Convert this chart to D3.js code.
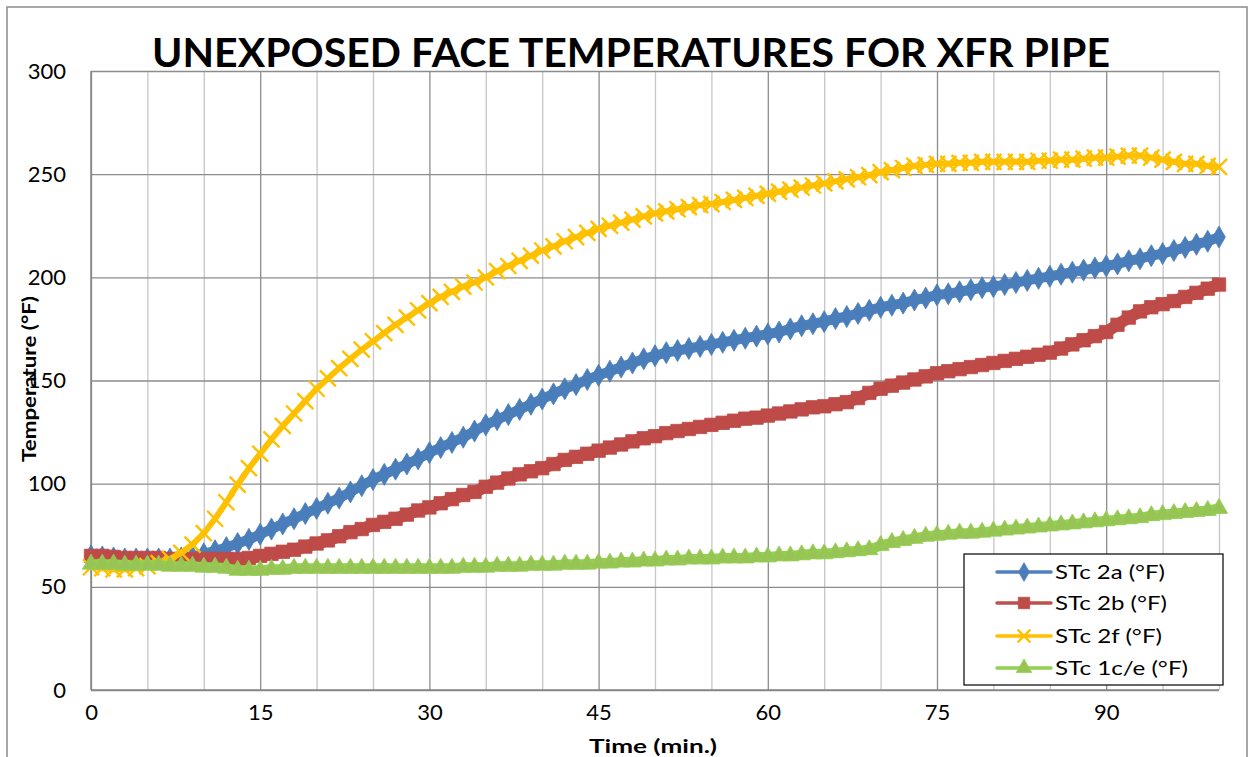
<!DOCTYPE html>
<html>
<head>
<meta charset="utf-8">
<script src="https://cdn.jsdelivr.net/npm/d3@7"></script>
<style>
  html, body { margin: 0; padding: 0; background: #ffffff; }
  svg { display: block; }
  text { font-family: Lato, "Open Sans", "Liberation Sans", sans-serif; fill: #000; }
</style>
</head>
<body>
<svg id="chart" width="1254" height="757"></svg>
<script>
// ---------- data (one value per minute, 0..100) ----------
const minutes = d3.range(0, 101);

const stc2a = [65,64.5,64,63.5,63.5,63.5,63.5,63.5,64,64.5,
  66,67.5,69,71,73,75.5,78,80.5,83,85.5,
  88,90.5,93,96,99,102,104.5,107,109.5,112,
  115,117.5,120,122.5,125.5,128.5,131,133.5,136,138.5,
  141,143.5,146,148,150.5,152.5,154.5,156.5,158.5,160.5,
  162,163.5,164.5,165.5,166.5,167.5,168.5,169.5,170.5,171.5,
  172.5,173.5,175,176.5,177.5,178.5,180,181,182.5,184,
  185.5,186.5,187.5,189,190,191.5,192,193,194,195,
  195.5,196.5,197.5,198.5,199.5,200.5,201.5,202.5,203.5,204.5,
  205.5,206.5,208,209,210.5,211.5,213,214.5,216,217.5,219.5];

const stc2b = [65,65,64.5,64,64,64,64,63.5,63.5,63.5,
  63.5,63.5,63.5,63.5,64,65,66,67,68,69.5,
  71,72.5,74.5,76.5,78,80,81.5,83,85,87,
  88.5,90.5,92.5,94.5,96,98.5,100.5,102.5,104.5,106,
  107.5,109.5,111.5,113,114.5,116,117.5,119,120.5,122,
  123,124.5,125.5,126.5,127.5,128.5,129.5,130.5,131.5,132,
  133,134,135,136,137,137.5,138.5,139.5,141.5,144,
  146,147.5,149,150.5,152,153.5,154.5,155.5,156.5,157.5,
  158.5,159.5,160.5,161.5,162.5,163.5,165.5,167.5,169.5,171.5,
  173.5,177,180.5,183.5,185.5,187,188.5,190.5,192.5,194.5,196.5];

const stc2f = [59.5,59,58.5,58.5,59,60,61.5,63.5,66.5,70.5,
  76,83,91,99.5,107.5,114.5,121.5,128,134,140,
  146,151,156,160.5,165,169,173,177,180.5,184,
  187.5,190.5,193,195.5,197.5,200,203,205.5,208,210.5,
  213,215,217.5,219.5,221.5,223.5,225,226.5,228,229.5,
  231,232,233,234,235,235.5,236.5,237.5,238.5,239.5,
  240.5,241.5,242.5,243.5,244.5,245.5,246.5,247.5,248.5,249.5,
  251,252,253,254,254.5,255,255,255.5,255.5,256,
  256,256,256,256,256.5,256.5,257,257,257.5,258,
  258,258.5,259,259,258,257,256,255,255,254,253.5];

const stc1ce = [61,61,61,60.5,60.5,60.5,60.5,60,60,60,
  59.5,59.5,59,58,58,58,58.5,58.5,59,59,
  59,59,59,59,59,59,59,59,59,59,
  59,59,59,59.5,59.5,59.5,60,60,60,60.5,
  60.5,60.5,61,61,61,61.5,61.5,62,62,62.5,
  62.5,63,63,63.5,63.5,63.5,64,64,64,64.5,
  64.5,65,65,65.5,66,66,66.5,67,67.5,68,
  70,71.5,72.5,73.5,74.5,75,75.5,76,76,76.5,
  77,77.5,78,78.5,79,79.5,80,80.5,81,81.5,
  82,82.5,83,83.5,84.5,85,85.5,86,86.5,87,88];

const seriesNames = ["STc 2a (°F)", "STc 2b (°F)", "STc 2f (°F)", "STc 1c/e (°F)"];
const xTickValues = [0, 15, 30, 45, 60, 75, 90];
const xGridValues = d3.range(0, 101, 5);
const yTickValues = [0, 50, 100, 150, 200, 250, 300];
const titleText = "UNEXPOSED FACE TEMPERATURES FOR XFR PIPE";
const xTitle = "Time (min.)";
const yTitle = "Temperature (°F)";

// ---------- layout ----------
const svg = d3.select("#chart");
const plot = { left: 91, top: 71, right: 1219, bottom: 690 };
const x = d3.scaleLinear().domain([0, 100]).range([plot.left, plot.right]);
const y = d3.scaleLinear().domain([0, 300]).range([plot.bottom, plot.top]);

// outer chart border
svg.append("rect").attr("x", 7).attr("y", 7).attr("width", 1240).attr("height", 770)
  .attr("fill", "#fff").attr("stroke", "#8a8a8a").attr("stroke-width", 1.5);

// title
svg.append("text").attr("x", 631).attr("y", 67).attr("text-anchor", "middle")
  .attr("font-size", 40).attr("font-weight", 700)
  .attr("textLength", 958).attr("lengthAdjust", "spacingAndGlyphs")
  .text(titleText);

// vertical grid (minor every 5, major every 15)
const gx = svg.append("g").attr("transform", `translate(0,${plot.bottom})`)
  .call(d3.axisBottom(x).tickValues(xGridValues).tickSize(-(plot.bottom - plot.top)).tickFormat(""));
gx.select(".domain").remove();
gx.selectAll(".tick line")
  .attr("stroke", d => d % 15 === 0 ? "#8c8c8c" : "#c6c6c6")
  .attr("stroke-width", 1.3);

// horizontal grid
const gy = svg.append("g").attr("transform", `translate(${plot.left},0)`)
  .call(d3.axisLeft(y).tickValues(yTickValues).tickSize(-(plot.right - plot.left)).tickFormat(""));
gy.select(".domain").remove();
gy.selectAll(".tick line").attr("stroke", "#8c8c8c").attr("stroke-width", 1.3);

// axis lines
svg.append("line").attr("x1", plot.left).attr("x2", plot.left).attr("y1", plot.top).attr("y2", plot.bottom)
  .attr("stroke", "#868686").attr("stroke-width", 1.5);
svg.append("line").attr("x1", plot.left).attr("x2", plot.right).attr("y1", plot.bottom).attr("y2", plot.bottom)
  .attr("stroke", "#868686").attr("stroke-width", 1.5);

// tick labels
const yAxis = svg.append("g").attr("transform", `translate(${plot.left - 25},0)`)
  .call(d3.axisLeft(y).tickValues(yTickValues).tickSize(0).tickPadding(0));
yAxis.select(".domain").remove();
yAxis.selectAll("text").attr("font-size", 22).attr("font-family", "Lato, sans-serif").attr("fill", "#000");

const xAxis = svg.append("g").attr("transform", `translate(0,${plot.bottom + 14})`)
  .call(d3.axisBottom(x).tickValues(xTickValues).tickSize(0).tickPadding(0));
xAxis.select(".domain").remove();
xAxis.selectAll("text").attr("font-size", 22).attr("font-family", "Lato, sans-serif").attr("fill", "#000");

// axis titles
svg.append("text").attr("x", 653).attr("y", 753).attr("text-anchor", "middle")
  .attr("font-size", 19).attr("font-weight", 700)
  .attr("textLength", 128).attr("lengthAdjust", "spacingAndGlyphs").text(xTitle);
svg.append("text").attr("transform", "translate(36,379) rotate(-90)").attr("text-anchor", "middle")
  .attr("font-size", 18).attr("font-weight", 700)
  .attr("textLength", 166).attr("lengthAdjust", "spacingAndGlyphs").text(yTitle);

// ---------- series ----------
const styles = [
  { data: stc2a, line: "#4F81BD", fill: "#4A7EBB", stroke: "#4A7EBB", sym: d3.symbolDiamond, size: 140, lw: 10 },
  { data: stc2b, line: "#C0504D", fill: "#BE4B48", stroke: "#BE4B48", sym: d3.symbolSquare, size: 180, lw: 12 },
  { data: stc2f, line: "#FFC000", fill: "none", stroke: "#FFC000", sym: "x", size: 16, lw: 6 },
  { data: stc1ce, line: "#92D050", fill: "#98C455", stroke: "#92D050", sym: d3.symbolTriangle, size: 130, lw: 10 }
];

const lineGen = d3.line().x((d, i) => x(minutes[i])).y(d => y(d));

function drawMarker(g, s, cx, cy, scale) {
  if (s.sym === "x") {
    const h = s.size / 2 * scale;
    g.append("path")
      .attr("d", `M${cx - h},${cy - h}L${cx + h},${cy + h}M${cx - h},${cy + h}L${cx + h},${cy - h}`)
      .attr("stroke", s.stroke).attr("stroke-width", 2.4).attr("fill", "none");
  } else {
    g.append("path")
      .attr("d", d3.symbol().type(s.sym).size(s.size * scale * scale)())
      .attr("transform", `translate(${cx},${cy})`)
      .attr("fill", s.fill).attr("stroke", s.stroke).attr("stroke-width", 0.8);
  }
}

const seriesG = svg.append("g");
styles.forEach(s => {
  const g = seriesG.append("g");
  g.append("path").datum(s.data).attr("d", lineGen)
    .attr("fill", "none").attr("stroke", s.line).attr("stroke-width", s.lw)
    .attr("stroke-linejoin", "round");
  s.data.forEach((v, i) => drawMarker(g, s, x(minutes[i]), y(v), 1));
});

// ---------- legend ----------
const lg = svg.append("g");
lg.append("rect").attr("x", 964).attr("y", 554).attr("width", 259).attr("height", 131)
  .attr("fill", "#fff").attr("stroke", "#000").attr("stroke-width", 1.2);
const legendRows = [572, 603, 636, 668];
const legendLens = [110, 112, 107, 133];
const legendScale = [0.85, 0.85, 0.8, 0.9];
styles.forEach((s, i) => {
  const cy = legendRows[i];
  lg.append("line").attr("x1", 997).attr("x2", 1051).attr("y1", cy).attr("y2", cy)
    .attr("stroke", s.line).attr("stroke-width", 3.5).attr("stroke-linecap", "round");
  drawMarker(lg, s, 1024, cy, legendScale[i]);
  lg.append("text").attr("x", 1055).attr("y", cy + 7).attr("font-size", 20)
    .attr("textLength", legendLens[i]).attr("lengthAdjust", "spacingAndGlyphs")
    .text(seriesNames[i]);
});
</script>
</body>
</html>
